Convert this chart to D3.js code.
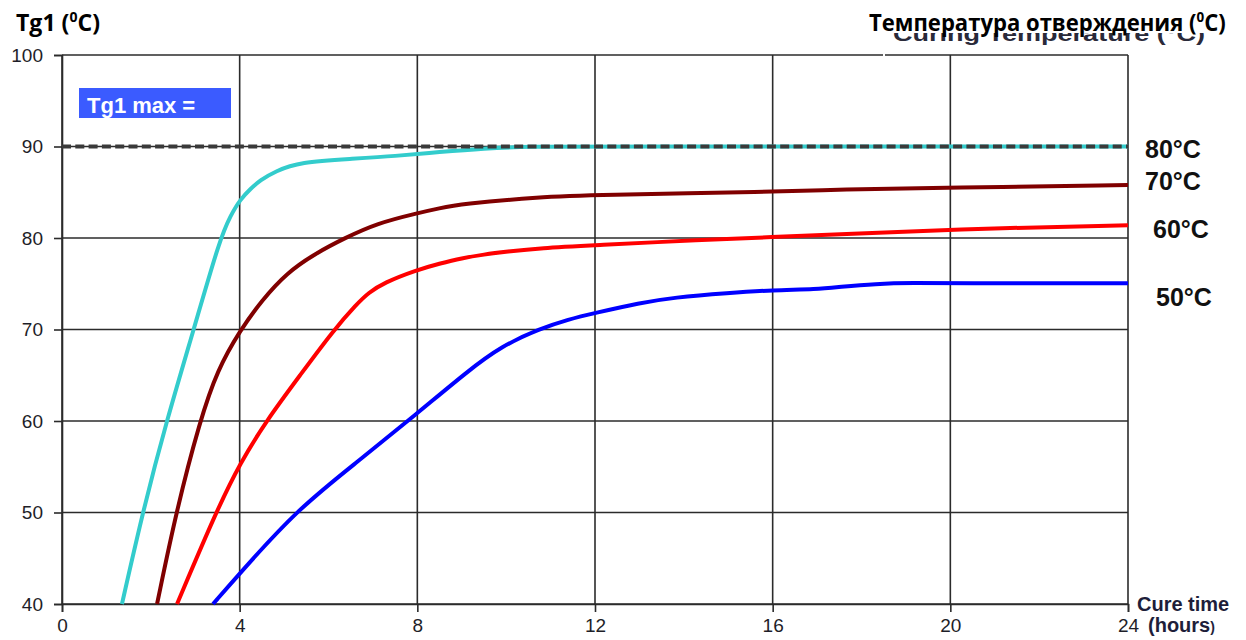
<!DOCTYPE html>
<html>
<head>
<meta charset="utf-8">
<script src="https://cdn.jsdelivr.net/npm/d3@7"></script>
<style>
  html, body { margin: 0; padding: 0; background: #fff; }
  svg { display: block; }
</style>
</head>
<body>
<svg id="chart" width="1246" height="640"></svg>
<script>
// ---- data (hours, Tg1 °C) ----
const cure80 = [[1.35,40],[1.83,50.3],[2.36,60.1],[2.96,69.9],[3.56,80.0],[3.8,82.5],[4.01,84.2],[4.25,85.4],[4.46,86.3],[4.8,87.3],[5.36,88.3],[6.5,88.65],[7.5,88.95],[8.5,89.4],[9.5,89.8],[10.5,90],[12,90],[24,90]];
const cure70 = [[2.14,40],[2.58,50.3],[3.11,60.1],[3.5,65.6],[4.01,69.9],[4.5,73.2],[5.06,76.2],[5.7,78.3],[6.37,80.0],[7.09,81.6],[7.99,82.7],[8.5,83.25],[8.97,83.7],[10.77,84.5],[12,84.7],[16,85.05],[17.5,85.3],[20,85.5],[24,85.8]];
const cure60 = [[2.59,40],[3.49,50.3],[4.01,55.4],[4.61,60.1],[5.36,65.0],[6.11,69.9],[6.64,72.8],[6.9,74.0],[7.24,75.1],[7.98,76.5],[8.5,77.2],[9.0,77.8],[9.5,78.2],[10.0,78.5],[10.77,78.9],[12,79.2],[14.4,79.8],[16,80.1],[17.5,80.4],[20,80.95],[24,81.4]];
const cure50 = [[3.40,40],[4.01,43.4],[5.29,50.3],[6.64,55.5],[7.99,60.8],[9.12,65.4],[9.9,68.2],[10.77,70.1],[11.4,71.1],[12,71.8],[13,72.9],[13.77,73.5],[15,74.0],[16,74.3],[17,74.4],[17.5,74.65],[18.3,75.0],[19.2,75.1],[20,75.05],[24,75.05]];
const seriesNames = ["80°C","70°C","60°C","50°C"];
const seriesColors = ["#33cccc","#800000","#ff0000","#0000ff"];
const labelTg = [89.7, 86.2, 81.0, 73.55];
const tgMax = 90;
const xTicks = [0,4,8,12,16,20,24];
const yTicks = [40,50,60,70,80,90,100];

// ---- layout ----
const svg = d3.select("#chart");
const x = d3.scaleLinear().domain([0,24]).range([62,1128]);
const y = d3.scaleLinear().domain([40,100]).range([604,55]);
const AX = "'Liberation Sans', Arial, sans-serif";
const GRID = "#2b2b2b";

// hidden original English title (partially covered)
svg.append("text")
  .attr("x", 893).attr("y", 41)
  .attr("textLength", 312).attr("lengthAdjust", "spacingAndGlyphs")
  .style("font-family", AX).style("font-weight", "bold").style("font-size", "21px")
  .style("fill", "#2a2a3a")
  .text("Curing Temperature (°C)");
svg.append("rect").attr("x", 878).attr("y", 0).attr("width", 368).attr("height", 33).attr("fill", "#fff");

// grid
svg.append("g").selectAll("line").data(yTicks).join("line")
  .attr("x1", x(0)).attr("x2", x(24))
  .attr("y1", d => y(d)).attr("y2", d => y(d))
  .attr("stroke", GRID).attr("stroke-width", 1.6);
svg.append("g").selectAll("line").data(xTicks).join("line")
  .attr("x1", d => x(d)).attr("x2", d => x(d))
  .attr("y1", y(100)).attr("y2", y(40))
  .attr("stroke", GRID).attr("stroke-width", 1.6);
// small gap in top border
svg.append("rect").attr("x", 883).attr("y", y(100) - 2).attr("width", 2).attr("height", 4).attr("fill", "#fff");

// axes
const yAxis = svg.append("g").attr("transform", `translate(${x(0)},0)`)
  .call(d3.axisLeft(y).tickValues(yTicks).tickSize(8).tickPadding(11).tickFormat(d3.format("d")));
const xAxis = svg.append("g").attr("transform", `translate(0,${y(40)})`)
  .call(d3.axisBottom(x).tickValues(xTicks).tickSize(8).tickPadding(7).tickFormat(d3.format("d")));
[yAxis, xAxis].forEach(g => {
  g.selectAll(".domain").attr("stroke", GRID).attr("stroke-width", 1.6);
  g.selectAll(".tick line").attr("stroke", GRID).attr("stroke-width", 1.6);
  g.selectAll(".tick text").style("font-family", AX).style("font-size", "19px").attr("fill", "#1e1e28");
});

// curves
const line = d3.line().x(d => x(d[0])).y(d => y(d[1])).curve(d3.curveBasis);
[cure80, cure70, cure60, cure50].forEach((s, i) => {
  svg.append("path").datum(s).attr("d", line)
    .attr("fill", "none").attr("stroke", seriesColors[i])
    .attr("stroke-width", 4).attr("stroke-linecap", "butt").attr("stroke-linejoin", "round");
});

// Tg1 max dashed line
svg.append("line")
  .attr("x1", x(0)).attr("x2", x(24)).attr("y1", y(tgMax)).attr("y2", y(tgMax))
  .attr("stroke", "#3a3a3a").attr("stroke-width", 4).attr("stroke-dasharray", "9,4.3");

// legend box
svg.append("rect").attr("x", 79).attr("y", 88).attr("width", 152).attr("height", 30).attr("fill", "#3b5bff");
svg.append("text").attr("x", 87).attr("y", 113)
  .style("font-family", AX).style("font-weight", "bold").style("font-size", "22px").style("fill", "#fff")
  .text("Tg1 max =");

// series labels
const labelX = [1145, 1145, 1153, 1156];
seriesNames.forEach((n, i) => {
  svg.append("text").attr("x", labelX[i]).attr("y", y(labelTg[i])).attr("dy", "0.36em")
    .style("font-family", AX).style("font-weight", "bold").style("font-size", "25px").style("fill", "#111")
    .text(n);
});

// x axis title
svg.append("text").attr("x", 1137).attr("y", 611)
  .style("font-family", AX).style("font-weight", "bold").style("font-size", "20px").style("fill", "#1e1e3a")
  .text("Cure time");
const hrs = svg.append("text").attr("x", 1148).attr("y", 632)
  .style("font-family", AX).style("font-weight", "bold").style("font-size", "20px").style("fill", "#1e1e3a");
hrs.append("tspan").text("(hours");
hrs.append("tspan").style("font-size", "14px").text(")");

// titles (condensed to match reference width)
const TF = "'Open Sans', 'Noto Sans', sans-serif";
function title(px, py, targetW, main) {
  const t = svg.append("text").attr("x", 0).attr("y", 0)
    .style("font-family", TF).style("font-weight", "bold").style("font-size", "23px").style("fill", "#000");
  t.append("tspan").text(main + "(");
  t.append("tspan").attr("dy", -9).style("font-size", "14px").text("0");
  t.append("tspan").attr("dy", 9).text("C)");
  const w = t.node().getComputedTextLength();
  t.attr("transform", `translate(${px},${py}) scale(${targetW / w},1)`);
}
title(16, 31, 84, "Tg1 ");
title(869, 31, 357, "Температура отверждения ");
</script>
</body>
</html>
